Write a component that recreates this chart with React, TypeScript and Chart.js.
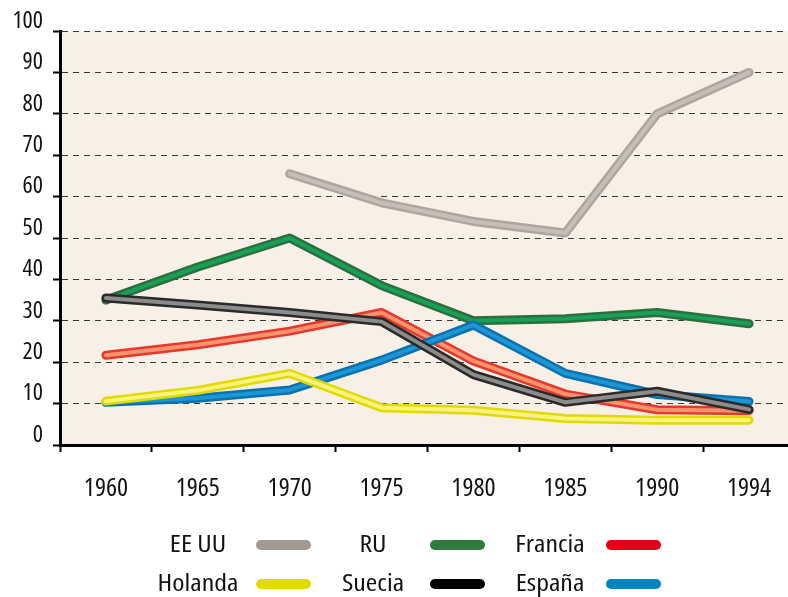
import React, { useEffect, useRef } from "react";
import { Chart, registerables } from "chart.js";

Chart.register(...registerables);

const years = ["1960", "1965", "1970", "1975", "1980", "1985", "1990", "1994"];
const yTicks = [0, 10, 20, 30, 40, 50, 60, 70, 80, 90, 100];

const eeuu = [null, null, 65.5, 58.5, 54, 51.2, 80, 90];
const ru = [35, 43, 50, 38.5, 30, 30.5, 32, 29.3];
const francia = [21.7, 24.2, 27.5, 32, 20.3, 12.3, 8.5, 8.3];
const espana = [10.3, 11.3, 13.3, 20.5, 29, 17.3, 12.2, 10.5];
const holanda = [10.6, 13.2, 17.3, 9, 8.4, 6.4, 6, 6];
const suecia = [35.5, 33.8, 32, 29.8, 17, 10.3, 13, 8.6];

const seriesNames = ["EE UU", "RU", "Francia", "España", "Holanda", "Suecia"];
const seriesData = [eeuu, ru, francia, espana, holanda, suecia];
const edgeColors = ["#ADA69E", "#2D6E3E", "#E8382C", "#0A72AE", "#E0DA00", "#2A2A2A"];
const innerColors = ["#C6BFB7", "#16A058", "#F4946F", "#1C96D4", "#F7F37E", "#8C8C8A"];

const legendNames = ["EE UU", "RU", "Francia", "Holanda", "Suecia", "España"];
const legendColors = ["#A09A92", "#2F7A3C", "#E2001A", "#E2DC00", "#000000", "#0086BF"];

const FONT = "'Open Sans', sans-serif";
const STRETCH = "condensed";

const bgPlugin = {
  id: "plotBg",
  beforeDraw(chart: any) {
    const { ctx, chartArea } = chart;
    ctx.save();
    ctx.fillStyle = "#F8EFE6";
    ctx.fillRect(chartArea.left, chartArea.top, chartArea.right - chartArea.left, chartArea.bottom - chartArea.top);
    ctx.restore();
  },
};

const legendPlugin = {
  id: "customLegend",
  afterDraw(chart: any) {
    const { ctx } = chart;
    const textCenters = [198, 373, 550];
    const swatchStarts = [256, 430, 606];
    const rows = [545, 584];
    legendNames.forEach((name, i) => {
      const col = i % 3;
      const row = Math.floor(i / 3);
      const y = rows[row];
      ctx.save();
      ctx.font = `${STRETCH} 24px ${FONT}`;
      ctx.textAlign = "center";
      ctx.textBaseline = "middle";
      ctx.fillStyle = "#111";
      ctx.translate(textCenters[col], y);
      ctx.scale(1.16, 1);
      ctx.fillText(name, 0, 0);
      ctx.restore();
      ctx.save();
      ctx.strokeStyle = legendColors[i];
      ctx.lineWidth = 10;
      ctx.lineCap = "round";
      ctx.beginPath();
      ctx.moveTo(swatchStarts[col] + 5, y);
      ctx.lineTo(swatchStarts[col] + 50, y);
      ctx.stroke();
      ctx.restore();
    });
  },
};

export default function App() {
  const ref = useRef<HTMLCanvasElement>(null);
  useEffect(() => {
    if (!ref.current) return;
    const datasets: any[] = [];
    seriesData.forEach((d, k) => {
      datasets.push({
        label: seriesNames[k],
        data: d,
        borderColor: edgeColors[k],
        borderWidth: 9,
        order: 100 - 2 * k,
        pointRadius: 0,
        tension: 0,
        borderCapStyle: "round",
        borderJoinStyle: "round",
        fill: false,
      });
      datasets.push({
        label: seriesNames[k] + " ",
        data: d,
        borderColor: innerColors[k],
        borderWidth: 4,
        order: 99 - 2 * k,
        pointRadius: 0,
        tension: 0,
        borderCapStyle: "round",
        borderJoinStyle: "round",
        fill: false,
      });
    });
    const chart = new Chart(ref.current, {
      type: "line",
      data: { labels: years, datasets },
      plugins: [bgPlugin, legendPlugin],
      options: {
        animation: false,
        responsive: false,
        devicePixelRatio: 1,
        layout: { padding: { left: 0, right: 5, top: 31, bottom: 0 } },
        plugins: { legend: { display: false }, tooltip: { enabled: false } },
        scales: {
          x: {
            type: "category",
            offset: true,
            grid: {
              offset: true,
              drawOnChartArea: false,
              drawTicks: true,
              tickLength: 7,
              tickColor: "#000",
              tickWidth: 2,
            },
            border: { display: true, color: "#000", width: 3 },
            ticks: {
              color: "#111",
              font: { family: FONT, size: 26, weight: STRETCH },
              padding: 21,
              maxRotation: 0,
              autoSkip: false,
            },
            afterFit(scale: any) {
              scale.height = 152;
            },
          },
          y: {
            min: 0,
            max: 100,
            afterBuildTicks(scale: any) {
              scale.ticks = yTicks.map((v) => ({ value: v }));
            },
            grid: {
              color: "#3a3a3a",
              lineWidth: 1,
              drawTicks: true,
              tickLength: 7,
              tickColor: "#000",
              tickWidth: 2,
            },
            border: { display: true, color: "#000", width: 3, dash: [6, 5] },
            ticks: {
              color: "#111",
              font: { family: FONT, size: 24, weight: STRETCH },
              padding: 10,
              labelOffset: -10,
            },
            afterFit(scale: any) {
              scale.width = 60;
            },
          },
        },
      } as any,
    });
    return () => chart.destroy();
  }, []);
  return (
    <div style={{ position: "fixed", left: 0, top: 0, width: 788, height: 597, overflow: "hidden", background: "#fff" }}>
      <canvas ref={ref} width={800} height={597} style={{ width: 800, height: 597, display: "block" }} />
    </div>
  );
}
